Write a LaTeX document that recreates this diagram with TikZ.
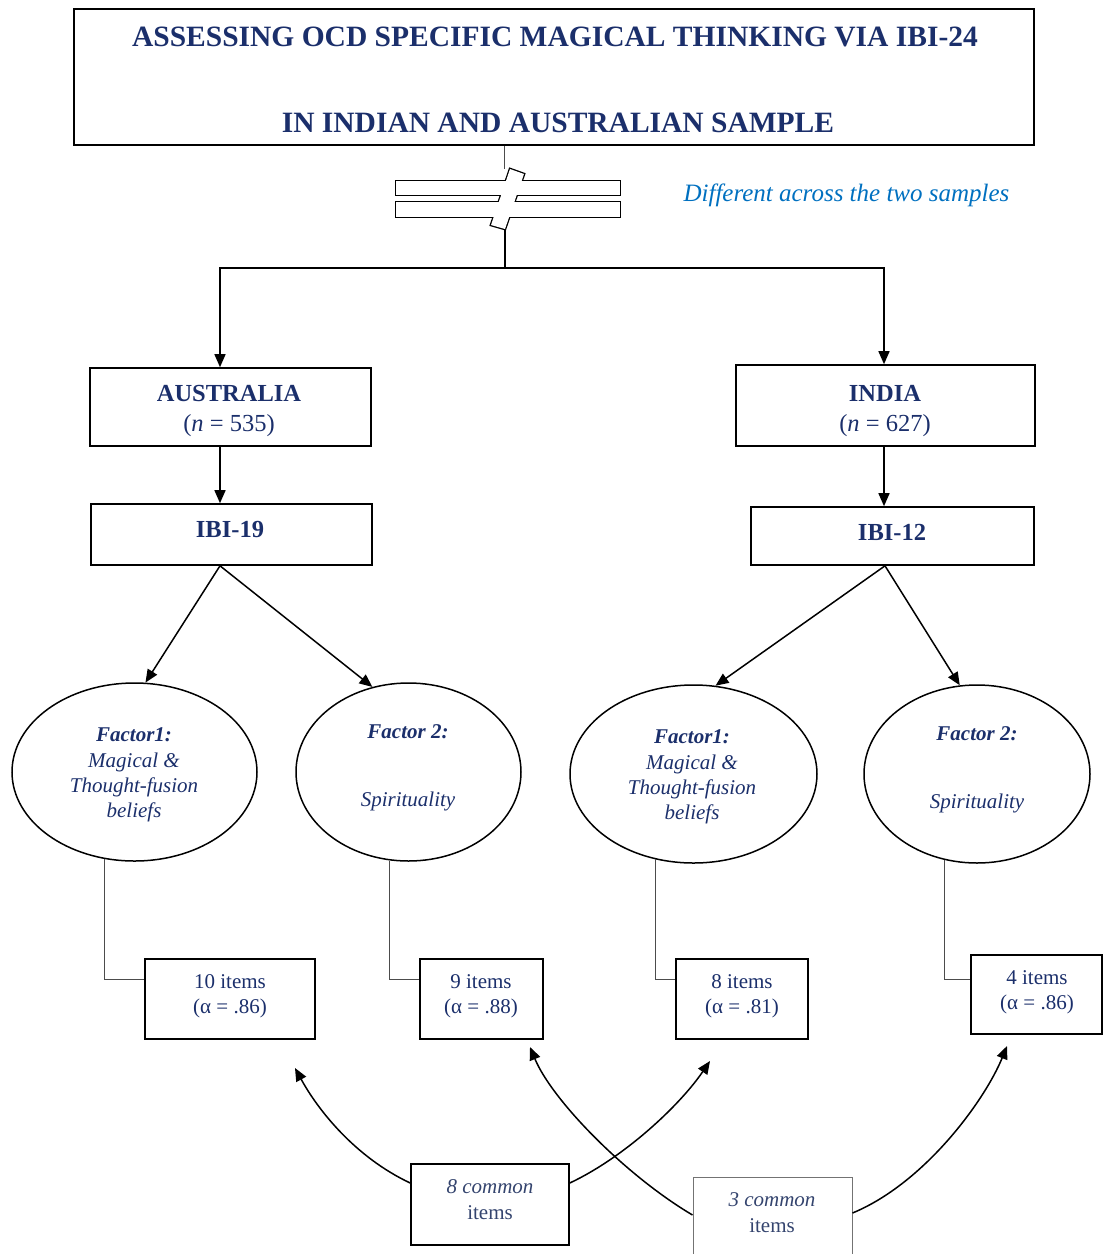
\documentclass[tikz,border=0pt]{standalone}
\usepackage{fontspec}
\setmainfont{Liberation Serif}
\usetikzlibrary{arrows.meta,shapes.geometric,calc}
\definecolor{navy}{HTML}{1B2F6B}
\definecolor{note}{RGB}{0,112,192}
\definecolor{soft}{HTML}{34446E}

\begin{document}
\begin{tikzpicture}[x=1pt,y=-1pt,
  box/.style={draw=black, line width=1.6pt, rectangle, inner sep=0pt},
  oval/.style={draw=black, line width=1.5pt, ellipse, inner sep=0pt},
  txt/.style={anchor=base, inner sep=0pt, text=navy},
  head/.style={txt, font=\fontsize{24.5}{26}\selectfont\bfseries},
  sub/.style={txt, font=\fontsize{24.5}{26}\selectfont},
  fac/.style={txt, font=\fontsize{21}{24}\selectfont\bfseries\itshape},
  des/.style={txt, font=\fontsize{21}{24}\selectfont\itshape},
  itm/.style={txt, font=\fontsize{21}{24}\selectfont},
  arr/.style={line width=1.5pt, -{Triangle[length=13pt,width=11pt]}},
  link/.style={line width=1pt, draw=black!70},
]
\useasboundingbox (0,0) rectangle (1103,1254);

% ---------- title ----------
\node[box, minimum width=960pt, minimum height=136pt] (title) at (554,77) {};
\node[txt, font=\fontsize{29.5}{31}\selectfont\bfseries] (tl1) at (555,46)
  {ASSESSING OCD SPECIFIC MAGICAL THINKING VIA IBI-24};
\node[txt, font=\fontsize{29.5}{31}\selectfont\bfseries] (tl2) at (558,132)
  {IN INDIAN AND AUSTRALIAN SAMPLE};

% ---------- "not equal" sign: outline of the union of two bars and a slash ----------
\coordinate (sTop) at (504,169);
\coordinate (sBot) at (505,229);
\coordinate (split) at (505,268);
\draw[link] (title.south -| sTop) -- (sTop);
\draw[line width=2.6pt] (396,181) rectangle (620,195);
\draw[line width=2.6pt] (396,202) rectangle (620,217);
\draw[line width=2.6pt] (510,169) -- (524,174) -- (505,229) -- (491,225) -- cycle;
\fill[white] (396,181) rectangle (620,195);
\fill[white] (396,202) rectangle (620,217);
\fill[white] (510,169) -- (524,174) -- (505,229) -- (491,225) -- cycle;
\node[txt, text=note, font=\fontsize{25}{27}\selectfont\itshape] (diff) at (846.5,201)
  {Different across the two samples};

% ---------- samples ----------
\node[box, minimum width=281pt, minimum height=78pt] (aus) at (230.5,407) {};
\node[head] (ausT) at (229,401) {AUSTRALIA};
\node[sub]  (ausN) at (229,431) {(\textit{n} = 535)};

\node[box, minimum width=299pt, minimum height=81pt] (ind) at (885.5,405.5) {};
\node[head] (indT) at (885,401) {INDIA};
\node[sub]  (indN) at (885,431) {(\textit{n} = 627)};

\draw[line width=1.2pt] (sBot) -- (split);
\draw[arr] (split) -| ([xshift=-10.5pt]aus.north);
\draw[arr] (split) -| ([xshift=-1.5pt]ind.north);

% ---------- scale versions ----------
\node[box, minimum width=281pt, minimum height=61pt] (ibi19) at (231.5,534.5) {};
\node[head] (ibi19T) at (230,537) {IBI-19};
\node[box, minimum width=283pt, minimum height=58pt] (ibi12) at (892.5,536) {};
\node[head] (ibi12T) at (892,540) {IBI-12};

\draw[arr] ([xshift=-10.5pt]aus.south) -- ([xshift=-10.5pt]aus.south |- ibi19.north);
\draw[arr] ([xshift=-1.5pt]ind.south) -- ([xshift=-1.5pt]ind.south |- ibi12.north);

% ---------- factors ----------
\node[oval, minimum width=245pt, minimum height=178pt] (f1a) at (134.5,772) {};
\node[oval, minimum width=225pt, minimum height=178pt] (f2a) at (408.5,772) {};
\node[oval, minimum width=247pt, minimum height=178pt] (f1i) at (693.5,774) {};
\node[oval, minimum width=226pt, minimum height=178pt] (f2i) at (977,774) {};

\draw[arr] ([xshift=-11.5pt]ibi19.south) -- (f1a.83.25);
\draw[arr] ([xshift=-11.5pt]ibi19.south) -- (f2a.113.4);
\draw[arr] ([xshift=-7.5pt]ibi12.south) -- (f1i.76.2);
\draw[arr] ([xshift=-7.5pt]ibi12.south) -- (f2i.101.6);

\node[fac] (f1aA) at (134,741) {Factor1:};
\node[des] (f1aB) at (134,767) {Magical \&};
\node[des] (f1aC) at (134,792) {Thought-fusion};
\node[des] (f1aD) at (134,817) {beliefs};

\node[fac] (f2aA) at (408,738) {Factor 2:};
\node[des] (f2aB) at (408,806) {Spirituality};

\node[fac] (f1iA) at (692,743) {Factor1:};
\node[des] (f1iB) at (692,769) {Magical \&};
\node[des] (f1iC) at (692,794) {Thought-fusion};
\node[des] (f1iD) at (692,819) {beliefs};

\node[fac] (f2iA) at (977,740) {Factor 2:};
\node[des] (f2iB) at (977,808) {Spirituality};

% ---------- item counts ----------
\node[box, minimum width=170pt, minimum height=80pt] (it1) at (230,999) {};
\node[box, minimum width=123pt, minimum height=80pt] (it2) at (481.5,999) {};
\node[box, minimum width=132pt, minimum height=80pt] (it3) at (742,999) {};
\node[box, minimum width=131pt, minimum height=79pt] (it4) at (1036.5,994.5) {};

\draw[link] (f1a.251.8) |- ([yshift=20pt]it1.west);
\draw[link] (f2a.258.7) |- ([yshift=20pt]it2.west);
\draw[link] (f1i.246.8) |- ([yshift=20pt]it3.west);
\draw[link] (f2i.249.5) |- ([yshift=15.5pt]it4.west);

\node[itm] (it1A) at (230,988) {10 items};
\node[itm] (it1B) at (230,1013) {(α = .86)};
\node[itm] (it2A) at (481,988) {9 items};
\node[itm] (it2B) at (481,1013) {(α = .88)};
\node[itm] (it3A) at (742,988) {8 items};
\node[itm] (it3B) at (742,1013) {(α = .81)};
\node[itm] (it4A) at (1037,984) {4 items};
\node[itm] (it4B) at (1037,1009) {(α = .86)};

% ---------- common items ----------
\node[box, minimum width=158pt, minimum height=81pt] (c8) at (490,1204.5) {};
\node[box, draw=black!55, line width=1pt, minimum width=159pt, minimum height=81pt] (c3) at (772.5,1217.5) {};
\node[des, text=soft] (c8A) at (490,1193) {8 common};
\node[itm, text=soft] (c8B) at (490,1219) {items};
\node[des, text=soft] (c3A) at (772,1206) {3 common};
\node[itm, text=soft] (c3B) at (772,1232) {items};

\coordinate (p1) at (295,1068);
\coordinate (p2) at (710,1061);
\coordinate (p3) at (530,1047);
\coordinate (p4) at (1007,1046);
\draw[arr] ([yshift=21.5pt]c8.west) .. controls (355,1157) and (318,1110) .. (p1);
\draw[arr] ([yshift=21.5pt]c8.east) .. controls (625,1157) and (680,1105) .. (p2);
\draw[arr] ([yshift=2.5pt]c3.west) .. controls (625,1175) and (552,1100) .. (p3);
\draw[arr] ([yshift=4.5pt]c3.east) .. controls (925,1183) and (985,1100) .. (p4);
\end{tikzpicture}
\end{document}
